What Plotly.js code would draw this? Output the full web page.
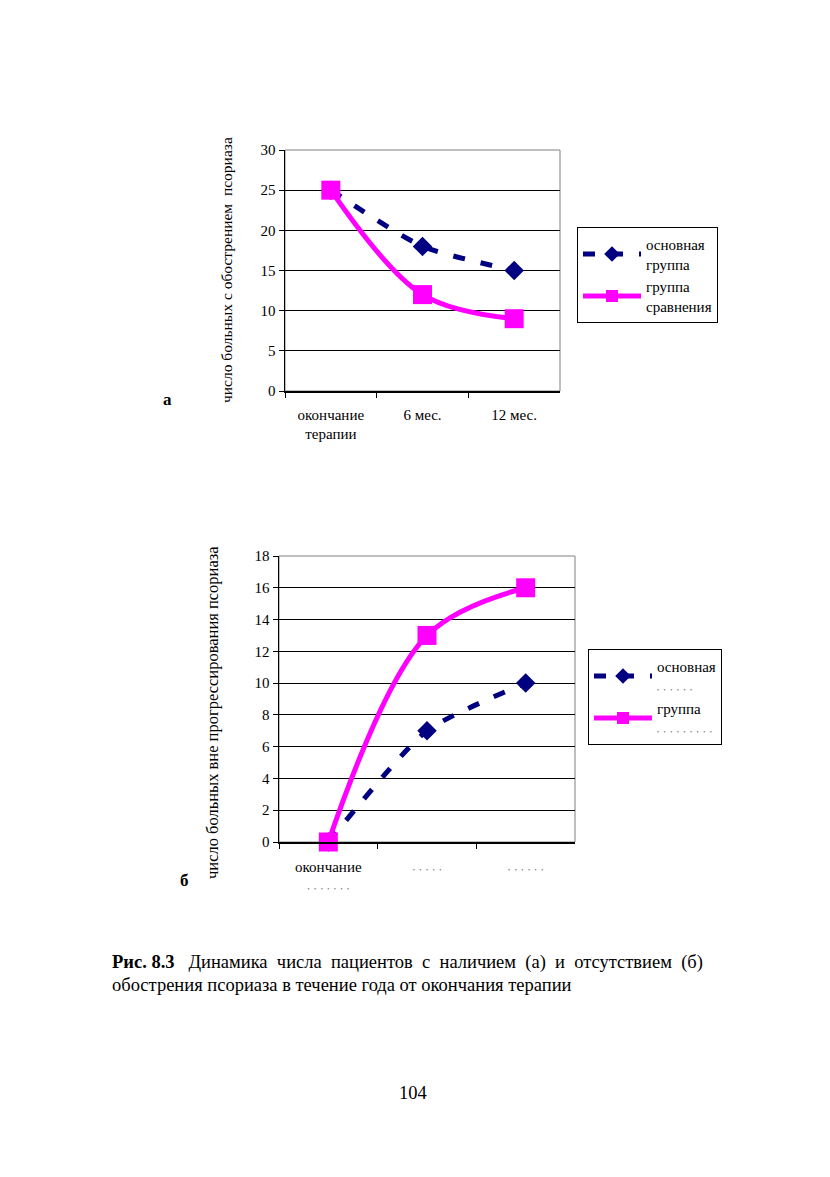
<!DOCTYPE html>
<html>
<head>
<meta charset="utf-8">
<script src="https://cdn.plot.ly/plotly-3.0.1.min.js"></script>
<style>
html,body{margin:0;padding:0;background:#fff;}
#chart{width:830px;height:1177px;}
</style>
</head>
<body>
<div id="chart"></div>
<script>
// ---- Data ----
const categoriesA = ["окончание<br>терапии", "6 мес.", "12 мес."];
const mainA = [25, 18, 15];
const compA = [25, 12, 9];

const dots = (n) => '<span style="font-size:6px;color:#777">' + Array(n).fill('•').join('&nbsp;&nbsp;&nbsp;') + '</span>';
const categoriesB = ["окончание<br>" + dots(7), dots(5), dots(6)];
const mainB = [0, 7, 10];
const compB = [0, 13, 16];

const nameMainA = "основная<br>группа";
const nameCompA = "группа<br>сравнения";
const nameMainB = "основная<br>" + dots(6);
const nameCompB = "группа<br>" + dots(9);

const yTitleA = "число больных с обострением  псориаза";
const yTitleB = "число больных вне прогрессирования псориаза";
const captionBold = "Рис. 8.3";
const captionLine1 = "Динамика числа пациентов с наличием (а) и отсутствием (б)";
const captionLine2 = "обострения псориаза в течение года от окончания терапии";
const pageNum = "104";

// ---- Styles ----
const FONT = "'Liberation Serif', 'Times New Roman', serif";
const NAVY = "#000080";
const MAGENTA = "#FF00FF";
const W = 830, H = 1177;
const px = (x) => x / W;
const py = (y) => 1 - y / H;

function mainTrace(x, y, xa, ya, name, legend) {
  return {
    x: x, y: y, xaxis: xa, yaxis: ya, name: name, legend: legend,
    type: "scatter", mode: "lines+markers",
    line: {color: NAVY, width: 5, dash: "12px,16px", shape: "spline", smoothing: 0.6},
    marker: {symbol: "diamond", size: 15, color: NAVY},
    cliponaxis: false
  };
}
function compTrace(x, y, xa, ya, name, legend) {
  return {
    x: x, y: y, xaxis: xa, yaxis: ya, name: name, legend: legend,
    type: "scatter", mode: "lines+markers",
    line: {color: MAGENTA, width: 5, shape: "spline", smoothing: 1},
    marker: {symbol: "square", size: 19, color: MAGENTA},
    cliponaxis: false
  };
}

const data = [
  mainTrace(categoriesA, mainA, "x", "y", nameMainA, "legend"),
  compTrace(categoriesA, compA, "x", "y", nameCompA, "legend"),
  mainTrace(categoriesB, mainB, "x2", "y2", nameMainB, "legend2"),
  compTrace(categoriesB, compB, "x2", "y2", nameCompB, "legend2")
];

function xAxis(domain, anchor, standoff) {
  return {
    domain: domain, anchor: anchor, type: "category", range: [-0.5, 2.5],
    showline: true, linecolor: "#000", linewidth: 1.5,
    ticks: "outside", ticklen: 5, tickcolor: "#000", tickson: "boundaries",
    ticklabelstandoff: standoff,
    tickfont: {family: FONT, size: 15, color: "#000"},
    showgrid: false, zeroline: false, fixedrange: true
  };
}
function yAxis(domain, anchor, range, dtick) {
  return {
    domain: domain, anchor: anchor, range: range, dtick: dtick,
    showline: true, linecolor: "#000", linewidth: 1.5,
    ticks: "outside", ticklen: 5, tickcolor: "#000",
    tickfont: {family: FONT, size: 15, color: "#000"},
    showgrid: true, gridcolor: "#000", gridwidth: 1,
    zeroline: false, fixedrange: true
  };
}

const legendStyle = {
  font: {family: FONT, size: 15, color: "#000"},
  bordercolor: "#000", borderwidth: 1, bgcolor: "#fff",
  xanchor: "left", yanchor: "top", itemsizing: "constant", itemwidth: 58
};

const layout = {
  width: W, height: H,
  margin: {l: 0, r: 0, t: 0, b: 0},
  paper_bgcolor: "#fff", plot_bgcolor: "#fff",
  font: {family: FONT, color: "#000"},
  xaxis: xAxis([px(285), px(560)], "y", 9),
  yaxis: yAxis([py(391), py(150)], "x", [0, 30], 5),
  xaxis2: xAxis([px(279), px(575)], "y2", 10),
  yaxis2: yAxis([py(842), py(556)], "x2", [0, 18], 2),
  legend: Object.assign({x: px(577), y: py(227), tracegroupgap: 6}, legendStyle),
  legend2: Object.assign({x: px(588), y: py(649), tracegroupgap: 16}, legendStyle),
  shapes: [
    {type: "rect", xref: "x domain", yref: "y domain", x0: 0, x1: 1, y0: 0, y1: 1,
     line: {color: "#808080", width: 1}, layer: "below"},
    {type: "rect", xref: "x2 domain", yref: "y2 domain", x0: 0, x1: 1, y0: 0, y1: 1,
     line: {color: "#808080", width: 1}, layer: "below"}
  ],
  annotations: [
    {text: yTitleA, textangle: -90, xref: "paper", yref: "paper", x: px(226), y: py(270),
     xanchor: "center", yanchor: "middle",
     showarrow: false, font: {family: FONT, size: 15.5, color: "#000"}},
    {text: yTitleB, textangle: -90, xref: "paper", yref: "paper", x: px(212), y: py(713),
     xanchor: "center", yanchor: "middle",
     showarrow: false, font: {family: FONT, size: 16.5, color: "#000"}},
    {text: "<b>а</b>", xref: "paper", yref: "paper", x: px(167), y: py(400),
     xanchor: "center", yanchor: "middle",
     showarrow: false, font: {family: FONT, size: 17, color: "#000"}},
    {text: "<b>б</b>", xref: "paper", yref: "paper", x: px(184), y: py(880),
     xanchor: "center", yanchor: "middle",
     showarrow: false, font: {family: FONT, size: 17, color: "#000"}},
    {text: "<b>" + captionBold + "</b>&nbsp;&nbsp; " + captionLine1.split(" ").join("&nbsp; "),
     xref: "paper", yref: "paper",
     x: px(110), y: py(962), xanchor: "left", yanchor: "middle", showarrow: false,
     font: {family: FONT, size: 18.5, color: "#000"}},
    {text: captionLine2, xref: "paper", yref: "paper",
     x: px(110), y: py(985), xanchor: "left", yanchor: "middle", showarrow: false,
     font: {family: FONT, size: 18.5, color: "#000"}},
    {text: pageNum, xref: "paper", yref: "paper", x: px(413), y: py(1093),
     xanchor: "center", yanchor: "middle",
     showarrow: false, font: {family: FONT, size: 18.5, color: "#000"}}
  ]
};

Plotly.newPlot("chart", data, layout, {staticPlot: true, displayModeBar: false});
</script>
</body>
</html>
